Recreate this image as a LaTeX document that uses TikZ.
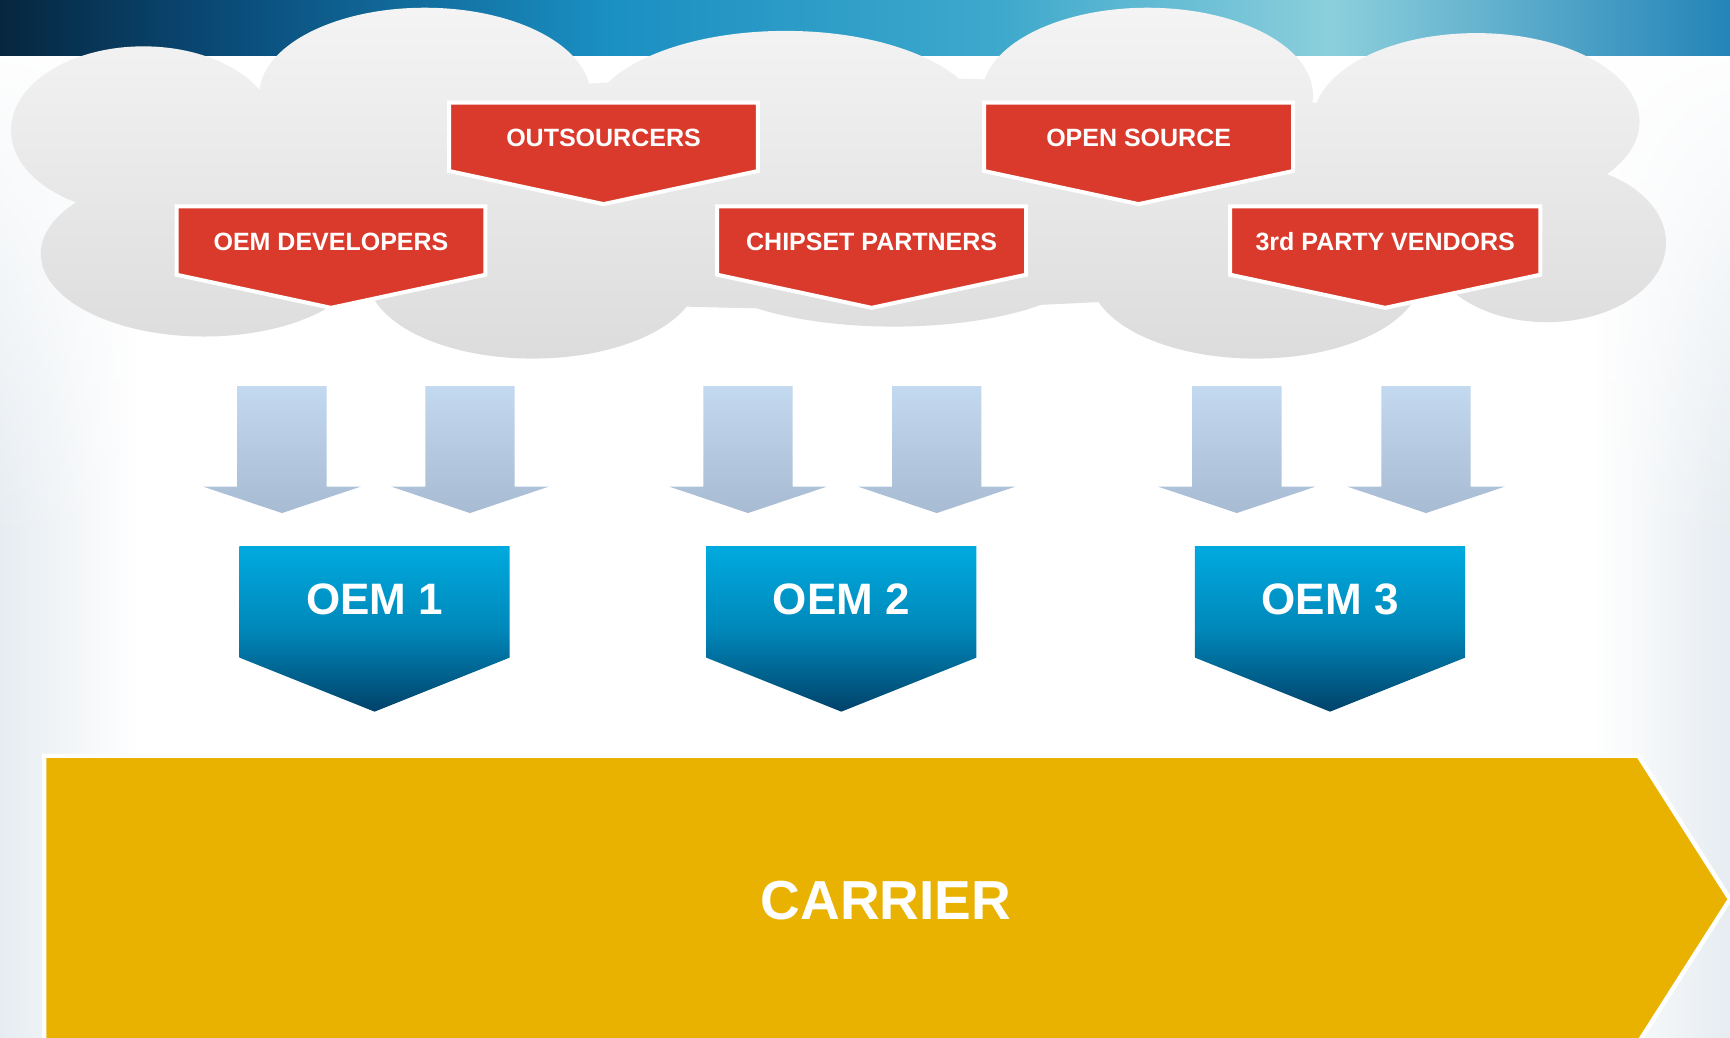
\documentclass[tikz,border=0pt]{standalone}
\usepackage{fontspec}
\setmainfont{Liberation Sans}
\usetikzlibrary{fadings}
\definecolor{hA}{HTML}{06263F}
\definecolor{hB}{HTML}{0A4E7C}
\definecolor{hC}{HTML}{1A8FC2}
\definecolor{hD}{HTML}{3FA9CC}
\definecolor{hE}{HTML}{8CCFDC}
\definecolor{hF}{HTML}{2484B8}
\definecolor{bgE}{HTML}{E6ECF1}
\definecolor{cloudT}{HTML}{F4F4F4}
\definecolor{cloudB}{HTML}{DCDCDC}
\definecolor{tagred}{HTML}{DA3A2B}
\definecolor{lbT}{HTML}{C3D9EF}
\definecolor{lbB}{HTML}{A7BBD2}
\definecolor{oemT}{HTML}{00AADF}
\definecolor{oemM}{HTML}{0088BA}
\definecolor{oemB}{HTML}{00426A}
\definecolor{carrierc}{HTML}{E9B200}
\pgfdeclarehorizontalshading{headershade}{100bp}{color(0bp)=(hA); color(25bp)=(hA); color(32bp)=(hB); color(42.5bp)=(hC); color(54bp)=(hD); color(63.5bp)=(hE); color(75bp)=(hF); color(100bp)=(hF)}
\pgfdeclarehorizontalshading{bgedgeshade}{100bp}{color(0bp)=(bgE); color(25bp)=(bgE); color(29bp)=(white); color(71bp)=(white); color(75bp)=(bgE); color(100bp)=(bgE)}
\tikzset{
  tagbox/.style={fill=tagred, draw=white, line width=2pt, line join=miter},
  taglabel/.style={text=white, inner sep=0pt, font=\bfseries\fontsize{12.5}{14}\selectfont},
  lightarrow/.style={top color=lbT, bottom color=lbB},
  oembox/.style={top color=oemT, bottom color=oemB, middle color=oemM},
  oemlabel/.style={text=white, inner sep=0pt, font=\bfseries\fontsize{22}{25}\selectfont},
  carrierbox/.style={fill=carrierc, draw=white, line width=2.2pt},
  carrierlabel/.style={text=white, inner sep=0pt, font=\bfseries\fontsize{27.5}{31}\selectfont},
}
\begin{document}
\begin{tikzpicture}[x=0.55166pt, y=-0.55166pt]
\useasboundingbox (0,0) rectangle (1568,940);
\clip (0,0) rectangle (1568,940);
% background
\fill[white] (0,0) rectangle (1568,940);
\shade[shading=bgedgeshade] (0,45) rectangle (1568,940);
\fill[white, path fading=south] (-20,30) rectangle (1590,500);
% header band
\shade[shading=headershade] (0,0) rectangle (1568,50);
% cloud
\shade[top color=cloudT, bottom color=cloudB]
  (130,118) ellipse [x radius=120, y radius=76]
  (385,86) ellipse [x radius=150, y radius=79]
  (712,110) ellipse [x radius=178, y radius=82]
  (1040,86) ellipse [x radius=150, y radius=79]
  (1338,110) ellipse [x radius=148, y radius=80]
  (1402,220) ellipse [x radius=108, y radius=72]
  (185,230) ellipse [x radius=148, y radius=75]
  (483,250) ellipse [x radius=150, y radius=75]
  (810,236) ellipse [x radius=180, y radius=60]
  (1138,250) ellipse [x radius=150, y radius=75]
  (760,175) ellipse [x radius=690, y radius=105];
% red tags
\foreach \n/\xa/\xb/\yt/\lab in {
  outs/407/687/93/OUTSOURCERS,
  opens/892/1172/93/OPEN SOURCE,
  oemdev/160/440/187/OEM DEVELOPERS,
  chip/650/930/187/CHIPSET PARTNERS,
  third/1115/1396/187/3rd PARTY VENDORS}{
  \path[tagbox] (\xa,\yt) -- (\xb,\yt) -- (\xb,\yt+62) -- ({(\xa+\xb)/2},\yt+92) -- (\xa,\yt+62) -- cycle;
  \node[taglabel] (\n) at ({(\xa+\xb)/2},\yt+32) {\lab};
}
% light blue arrows
\foreach \c [count=\i] in {255.5,426,678,849,1121,1292.5}{
  \shade[lightarrow] (\c-40.5,350) -- (\c+40.5,350) -- (\c+40.5,441) -- (\c+71.5,441) -- (\c,465) -- (\c-71.5,441) -- (\c-40.5,441) -- cycle;
  \coordinate (lb\i) at (\c,465);
}
% OEM boxes
\foreach \c/\k in {339.5/1,762.5/2,1205.5/3}{
  \shade[oembox] (\c-122.5,495) -- (\c+122.5,495) -- (\c+122.5,596) -- (\c,645) -- (\c-122.5,596) -- cycle;
  \node[oemlabel] (oem\k) at (\c,543) {OEM \k};
}
% carrier
\path[carrierbox] (40,685) -- (1485,685) -- (1568,815) -- (1485,945) -- (40,945) -- cycle;
\node[carrierlabel] (carrier) at (803,816) {CARRIER};
\end{tikzpicture}
\end{document}
